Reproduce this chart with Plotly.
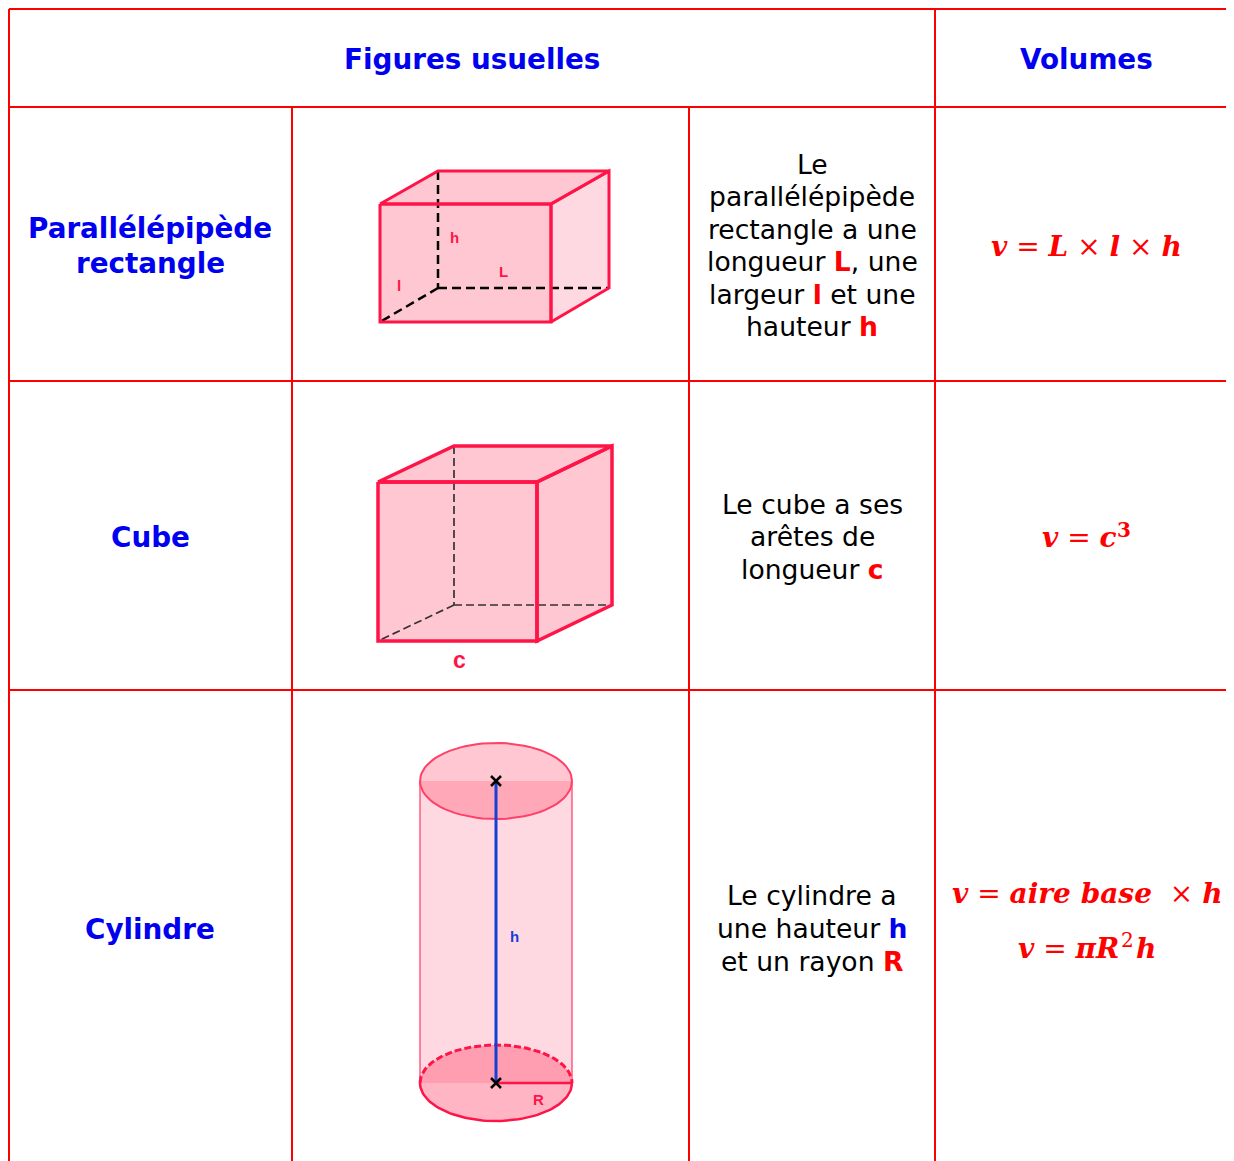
import numpy as np
import plotly.graph_objects as go

RED = '#ff0000'
BLUE = '#0000f0'
EDGE = '#ff1448'
PINK = '#ffc7d2'
PALE = '#ffd9e1'
BODY_FONT = 'DejaVu Sans'
MATH_FONT = 'DejaVu Serif'
LABEL_FONT = 'Liberation Sans'

# table grid
GRID_X = [9, 292, 689, 935]
GRID_Y = [9, 107, 381, 690]
PAGE_W = 1234
PAGE_H = 1161
# the browser keeps an 8px body margin round the figure
PAGE_MARGIN = 8

# headers
HEADERS = ['Figures usuelles', 'Volumes']
HEADER_X = [472, 1086]
HEADER_Y = [59, 59]

# figure names
NAMES = ['Parallélépipède', 'rectangle', 'Cube', 'Cylindre']
NAMES_X = [150, 150, 150, 150]
NAMES_Y = [228, 263, 537, 929]

# descriptions, line by line
DESC = [
    'Le', 'parallélépipède', 'rectangle a une',
    'longueur <b style="color:#ff0000">L</b>, une',
    'largeur <b style="color:#ff0000">l</b> et une',
    'hauteur <b style="color:#ff0000">h</b>',
    'Le cube a ses', 'arêtes de',
    'longueur <b style="color:#ff0000">c</b>',
    'Le cylindre a',
    'une hauteur <b style="color:#0000f0">h</b>',
    'et un rayon <b style="color:#ff0000">R</b>',
]
DESC_Y = [164, 196, 229, 261, 294, 326, 504, 536, 569, 895, 928, 961]

# volume formulas, exponents are separate pieces
FORMULAS = [
    '<b><i>v</i></b> = <b><i>L</i></b> × <b><i>l</i></b> × <b><i>h</i></b>',
    '<b><i>v</i></b> = <b><i>c</i></b>',
    '<b><i>v</i></b> = <b><i>aire base</i></b>  × <b><i>h</i></b>',
    '<b><i>v</i></b> = <b><i>πR</i></b>',
    '<b><i>h</i></b>',
]
FORMULAS_X = [989, 1040, 950, 1016, 1134]
FORMULAS_Y = [246, 537, 893, 948, 948]
EXPONENTS = ['<b>3</b>', '2']
EXPONENTS_X = [1124, 1127]
EXPONENTS_Y = [530, 940]

# parallelepiped outline
BOX_FRONT_X = [380, 551, 551, 380, 380]
BOX_FRONT_Y = [204, 204, 322, 322, 204]
BOX_TOP_X = [380, 438, 609, 551, 380]
BOX_TOP_Y = [204, 171, 171, 204, 204]
BOX_SIDE_X = [551, 609, 609, 551, 551]
BOX_SIDE_Y = [204, 171, 288, 322, 204]
BOX_HIDDEN_X = [438, 438, None, 438, 609, None, 438, 380]
BOX_HIDDEN_Y = [171, 288, None, 288, 288, None, 288, 322]
BOX_LABELS = ['h', 'L', 'l']
BOX_LABELS_X = [454, 503, 399]
BOX_LABELS_Y = [237, 271, 285]

# cube outline
CUBE_FRONT_X = [378, 537, 537, 378, 378]
CUBE_FRONT_Y = [482, 482, 641, 641, 482]
CUBE_TOP_X = [378, 454, 612, 537, 378]
CUBE_TOP_Y = [482, 446, 446, 482, 482]
CUBE_SIDE_X = [537, 612, 612, 537, 537]
CUBE_SIDE_Y = [482, 446, 605, 641, 482]
CUBE_HIDDEN_X = [454, 454, None, 454, 612, None, 454, 378]
CUBE_HIDDEN_Y = [446, 605, None, 605, 605, None, 605, 641]

# cylinder
CYL_X = 496
CYL_RX = 76
CYL_RY = 38
CYL_TOP = 781
CYL_BOTTOM = 1083


def arc(cy, start, end):
    """Half or full ellipse of the cylinder, y axis pointing down."""
    t = np.linspace(start, end, 80)
    return CYL_X + CYL_RX * np.cos(t), cy + CYL_RY * np.sin(t)


def add_poly(fig, xs, ys, fill):
    """Add a filled polygon."""
    fig.add_trace(go.Scatter(
        x=xs, y=ys, mode='lines', fill='toself', fillcolor=fill,
        line={'color': fill, 'width': 0},
    ))


def add_line(fig, xs, ys, color, width, dash=None):
    """Add an open line."""
    fig.add_trace(go.Scatter(
        x=xs, y=ys, mode='lines',
        line={'color': color, 'width': width, 'dash': dash},
    ))


def add_text(fig, x, y, text, family, size, color, anchor='center'):
    """Add one line of text."""
    fig.add_annotation(
        x=x, y=y, text=text, showarrow=False, xanchor=anchor, yanchor='middle',
        font={'family': family, 'size': size, 'color': color},
    )


fig = go.Figure()

# parallelepiped
add_poly(fig, BOX_SIDE_X, BOX_SIDE_Y, PALE)
add_poly(fig, BOX_TOP_X, BOX_TOP_Y, PINK)
add_poly(fig, BOX_FRONT_X, BOX_FRONT_Y, PINK)
add_line(fig, BOX_HIDDEN_X, BOX_HIDDEN_Y, 'black', 2.5, '9px,5px')
add_line(fig, BOX_SIDE_X, BOX_SIDE_Y, EDGE, 3)
add_line(fig, BOX_TOP_X, BOX_TOP_Y, EDGE, 3)
add_line(fig, BOX_FRONT_X, BOX_FRONT_Y, EDGE, 3)

# cube
add_poly(fig, CUBE_SIDE_X, CUBE_SIDE_Y, PINK)
add_poly(fig, CUBE_TOP_X, CUBE_TOP_Y, PINK)
add_poly(fig, CUBE_FRONT_X, CUBE_FRONT_Y, PINK)
add_line(fig, CUBE_HIDDEN_X, CUBE_HIDDEN_Y, '#333333', 1.7, '8px,4px')
add_line(fig, CUBE_SIDE_X, CUBE_SIDE_Y, EDGE, 3.5)
add_line(fig, CUBE_TOP_X, CUBE_TOP_Y, EDGE, 3.5)
add_line(fig, CUBE_FRONT_X, CUBE_FRONT_Y, EDGE, 3.5)

# cylinder body
add_poly(fig, [CYL_X - CYL_RX, CYL_X + CYL_RX, CYL_X + CYL_RX, CYL_X - CYL_RX],
         [CYL_TOP, CYL_TOP, CYL_BOTTOM, CYL_BOTTOM], PALE)
add_line(fig, [CYL_X - CYL_RX, CYL_X - CYL_RX], [CYL_TOP, CYL_BOTTOM], '#ff5c7c', 1.5)
add_line(fig, [CYL_X + CYL_RX, CYL_X + CYL_RX], [CYL_TOP, CYL_BOTTOM], '#ff5c7c', 1.5)

# top ellipse
x, y = arc(CYL_TOP, np.pi, 2 * np.pi)
add_poly(fig, x, y, PINK)
x, y = arc(CYL_TOP, 0, np.pi)
add_poly(fig, x, y, '#ffa8b8')
x, y = arc(CYL_TOP, 0, 2 * np.pi)
add_line(fig, x, y, '#ff4068', 2)

# bottom ellipse
x, y = arc(CYL_BOTTOM, np.pi, 2 * np.pi)
add_poly(fig, x, y, '#ff9db1')
x, y = arc(CYL_BOTTOM, 0, np.pi)
add_poly(fig, x, y, '#ffb5c4')
add_line(fig, x, y, EDGE, 2.5)
x, y = arc(CYL_BOTTOM, np.pi, 2 * np.pi)
add_line(fig, x, y, EDGE, 3, '7px,3px')

# radius, height and the two centres
add_line(fig, [CYL_X, CYL_X + CYL_RX], [CYL_BOTTOM, CYL_BOTTOM], EDGE, 2.5)
add_line(fig, [CYL_X, CYL_X], [CYL_TOP, CYL_BOTTOM], '#1440d8', 3)
fig.add_trace(go.Scatter(
    x=[CYL_X, CYL_X], y=[CYL_TOP, CYL_BOTTOM], mode='markers',
    marker={'symbol': 'x-thin', 'size': 10, 'line': {'color': 'black', 'width': 2.5}},
))

# table grid
for gx in GRID_X:
    y_top = GRID_Y[1] if gx in GRID_X[1:3] else GRID_Y[0]
    add_line(fig, [gx, gx], [y_top, PAGE_H], RED, 2)
for gy in GRID_Y:
    add_line(fig, [GRID_X[0], PAGE_W], [gy, gy], RED, 2)

# texts
for text, hx, hy in zip(HEADERS, HEADER_X, HEADER_Y):
    add_text(fig, hx, hy, f'<b>{text}</b>', BODY_FONT, 27.8, BLUE)
for text, nx, ny in zip(NAMES, NAMES_X, NAMES_Y):
    add_text(fig, nx, ny, f'<b>{text}</b>', BODY_FONT, 27.8, BLUE)
for text, dy in zip(DESC, DESC_Y):
    add_text(fig, 812, dy, text, BODY_FONT, 26.6, 'black')
for text, fx, fy in zip(FORMULAS, FORMULAS_X, FORMULAS_Y):
    add_text(fig, fx, fy, text, MATH_FONT, 28, RED, anchor='left')
for text, ex, ey in zip(EXPONENTS, EXPONENTS_X, EXPONENTS_Y):
    add_text(fig, ex, ey, text, MATH_FONT, 20, RED)

for text, lx, ly in zip(BOX_LABELS, BOX_LABELS_X, BOX_LABELS_Y):
    add_text(fig, lx, ly, f'<b>{text}</b>', LABEL_FONT, 15, EDGE)
add_text(fig, 459, 660, '<b>c</b>', LABEL_FONT, 23, EDGE)
add_text(fig, 538, 1099, '<b>R</b>', LABEL_FONT, 15, EDGE)
add_text(fig, 514, 936, '<b>h</b>', LABEL_FONT, 15, '#1440d8')

fig.update_layout(
    width=PAGE_W - PAGE_MARGIN,
    height=PAGE_H - PAGE_MARGIN,
    margin={'t': 0, 'b': 0, 'l': 0, 'r': 0},
    showlegend=False,
    plot_bgcolor='white',
    paper_bgcolor='white',
    xaxis={'range': [PAGE_MARGIN, PAGE_W], 'visible': False},
    yaxis={'range': [PAGE_H, PAGE_MARGIN], 'visible': False},
)

fig.write_html("out.html")
